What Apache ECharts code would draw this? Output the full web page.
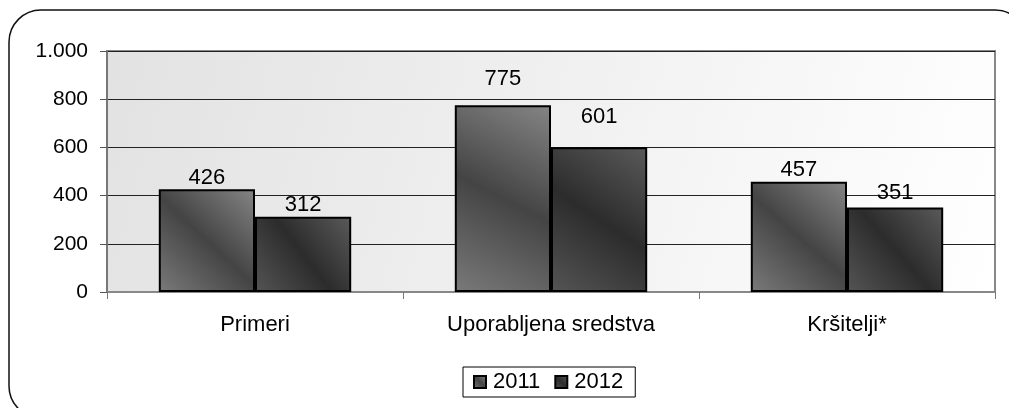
<!DOCTYPE html>
<html>
<head>
<meta charset="utf-8">
<script src="https://cdn.jsdelivr.net/npm/echarts@6/dist/echarts.min.js"></script>
<style>
  html, body { margin: 0; padding: 0; background: #fff; }
  #main { width: 1009px; height: 408px; }
</style>
</head>
<body>
<div id="main"></div>
<script>
var categories = ["Primeri", "Uporabljena sredstva", "Kršitelji*"];
var years = ["2011", "2012"];
var values2011 = [426, 775, 457];
var values2012 = [312, 601, 351];

var chart = echarts.init(document.getElementById("main"));

function grad(c1, c2, c3) {
  return new echarts.graphic.LinearGradient(0, 1, 1, 0, [
    { offset: 0, color: c1 },
    { offset: 0.5, color: c2 },
    { offset: 1, color: c3 },
  ]);
}

var font = "Liberation Sans, Arial, sans-serif";

// Excel puts labels of the taller bars a bit higher
function withLabelGap(values, base, k) {
  return values.map(function (v) {
    return { value: v, label: { distance: Math.max(0, (v - base) * k) } };
  });
}

var option = {
  animation: false,
  textStyle: { fontFamily: font },
  graphic: [
    {
      type: "rect",
      shape: { x: 9, y: 10, width: 1018, height: 408, r: 32 },
      style: { fill: "none", stroke: "#111", lineWidth: 1.5 },
      z: 100,
    },
  ],
  grid: {
    left: 107,
    right: 14,
    top: 51,
    bottom: 116,
    show: true,
    borderColor: "#888",
    borderWidth: 2,
    backgroundColor: new echarts.graphic.LinearGradient(0, 0, 1, 1, [
      { offset: 0, color: "#e2e2e2" },
      { offset: 1, color: "#ffffff" },
    ]),
  },
  legend: {
    data: years,
    left: 463,
    top: 367,
    icon: "rect",
    itemWidth: 12,
    itemHeight: 12,
    itemGap: 14,
    padding: [4, 12, 4, 10],
    borderColor: "#000",
    borderWidth: 1,
    textStyle: { fontSize: 22, color: "#000", fontFamily: font, padding: [0, 0, 0, 2] },
  },
  xAxis: {
    type: "category",
    data: categories,
    axisLine: { lineStyle: { color: "#888", width: 2 } },
    axisTick: { show: true, length: 7, lineStyle: { color: "#777" } },
    axisLabel: { fontSize: 22, color: "#000", margin: 22, fontFamily: font },
  },
  yAxis: {
    type: "value",
    min: 0,
    max: 1000,
    interval: 200,
    axisLine: { show: true, lineStyle: { color: "#777", width: 2 } },
    axisTick: { show: true, length: 7, lineStyle: { color: "#555" } },
    splitLine: { lineStyle: { color: "#222", width: 1 } },
    axisLabel: {
      fontSize: 21,
      color: "#000",
      margin: 19,
      fontFamily: font,
      formatter: function (v) {
        return v >= 1000 ? String(v).replace(/(\d)(?=(\d{3})+$)/g, "$1.") : v;
      },
    },
  },
  series: [
    {
      name: years[0],
      type: "bar",
      data: withLabelGap(values2011, 440, 0.045),
      barGap: "0%",
      barCategoryGap: "35%",
      itemStyle: {
        color: grad("#7a7a7a", "#444444", "#858585"),
        borderColor: "#000",
        borderWidth: 2,
      },
      label: { show: true, position: "top", fontSize: 22, color: "#000", fontFamily: font },
    },
    {
      name: years[1],
      type: "bar",
      data: withLabelGap(values2012, 300, 0.063),
      itemStyle: {
        color: grad("#555555", "#2c2c2c", "#5a5a5a"),
        borderColor: "#000",
        borderWidth: 2,
      },
      label: { show: true, position: "top", fontSize: 22, color: "#000", fontFamily: font },
    },
  ],
};

chart.setOption(option);
</script>
</body>
</html>
